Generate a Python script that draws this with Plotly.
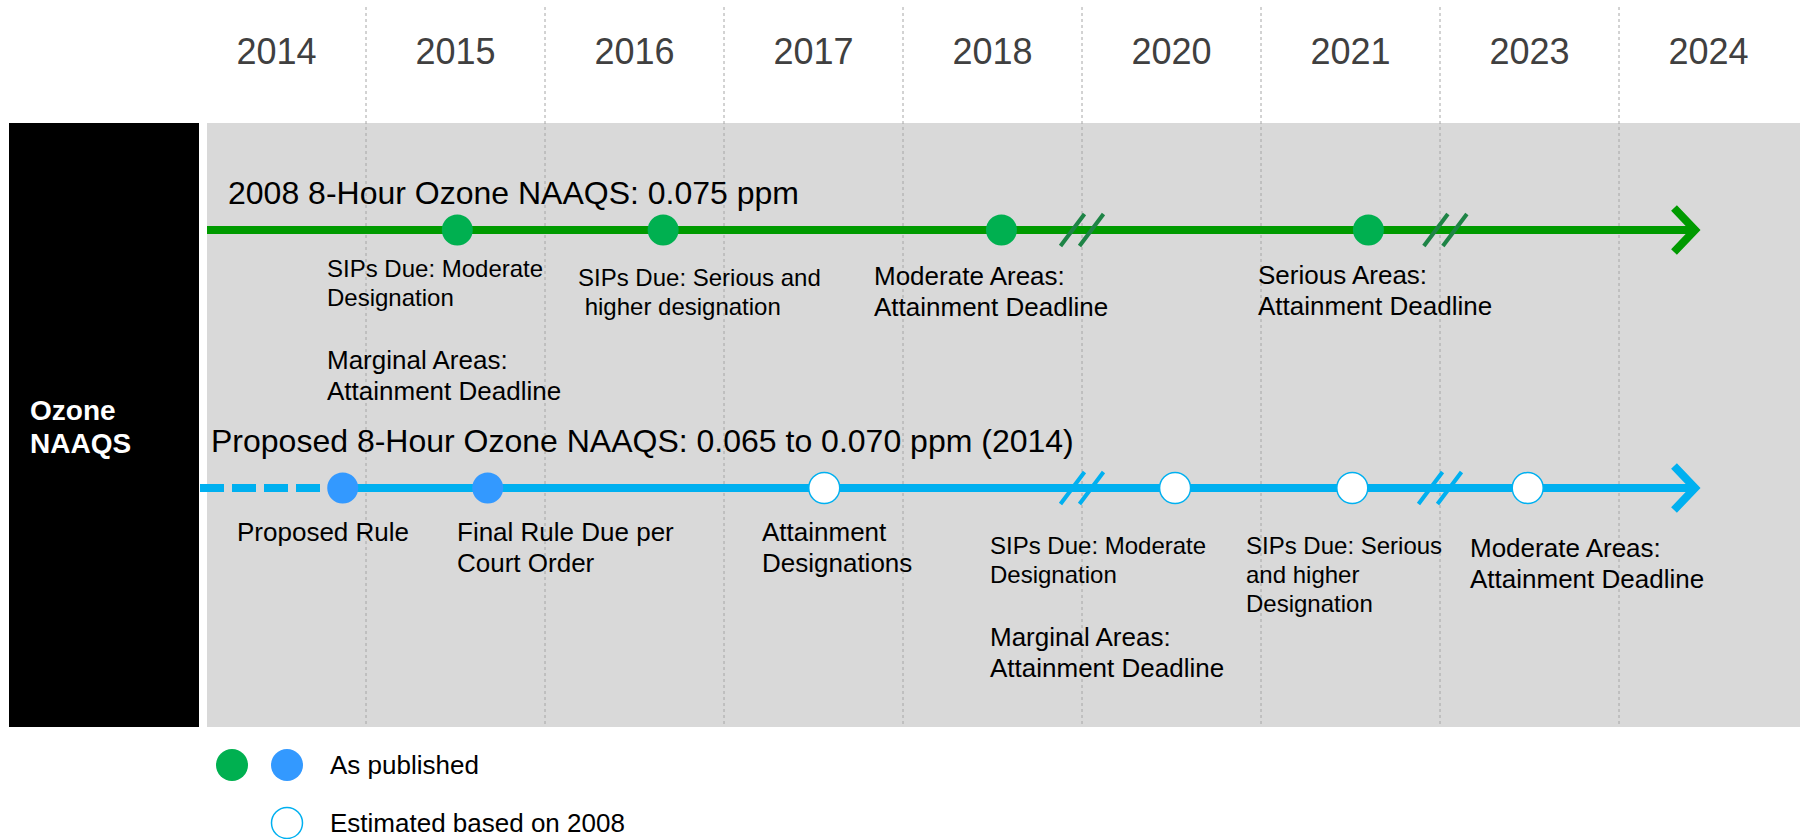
import plotly.graph_objects as go

W, H = 1800, 839

# ---------------- data ----------------
years = ["2014", "2015", "2016", "2017", "2018", "2020", "2021", "2023", "2024"]

green_title = "2008 8-Hour Ozone NAAQS: 0.075 ppm"
green_pos = [1.01, 2.16, 4.05, 6.10]          # milestone positions (year columns)
green_breaks = [4.5, 6.53]                     # skipped years (2019, 2022)
green_labels = [
    "SIPs Due: Moderate\nDesignation",
    "Marginal Areas:\nAttainment Deadline",
    "SIPs Due: Serious and\n\u00a0higher designation",
    "Moderate Areas:\nAttainment Deadline",
    "Serious Areas:\nAttainment Deadline",
]

blue_title = "Proposed 8-Hour Ozone NAAQS: 0.065 to 0.070 ppm (2014)"
blue_pos = [0.37, 1.18, 3.06, 5.02, 6.01, 6.99]
blue_status = ["published", "published", "estimated", "estimated", "estimated", "estimated"]
blue_breaks = [4.5, 6.5]
blue_labels = [
    "Proposed Rule",
    "Final Rule Due per\nCourt Order",
    "Attainment\nDesignations",
    "SIPs Due: Moderate\nDesignation",
    "Marginal Areas:\nAttainment Deadline",
    "SIPs Due: Serious\nand higher\nDesignation",
    "Moderate Areas:\nAttainment Deadline",
]

row_title = "Ozone\nNAAQS"
legend_texts = ["As published", "Estimated based on 2008"]

# ---------------- layout helpers ----------------
X0, COL = 276.5, 179.0           # pixel of column 0 centre, column width


def xpx(p):
    return (p - X0) / COL


FONT = "Liberation Sans, Arial, sans-serif"
GREEN_LINE, GREEN_DOT, GREEN_BREAK = "#009A00", "#00B050", "#1E8446"
BLUE_LINE, BLUE_DOT = "#00B0F0", "#3399FF"
Y_GREEN, Y_BLUE = 230, 488
TIP = xpx(1695)
ARM = xpx(1674)

green_label_layout = [(325, 268, 24), (325, 360, 26), (576, 277, 24), (872, 276, 26), (1256, 275, 26)]
blue_label_layout = [(235, 532, 26), (455, 532, 26), (760, 532, 26), (988, 545, 24),
                     (988, 637, 26), (1244, 545, 24), (1468, 548, 26)]

fig = go.Figure()

# ---------------- background shapes ----------------
shapes = [
    dict(type="rect", xref="x", yref="y", x0=xpx(207), x1=xpx(W), y0=123, y1=727,
         fillcolor="#D9D9D9", line=dict(width=0), layer="below"),
    dict(type="rect", xref="x", yref="y", x0=xpx(9), x1=xpx(199), y0=123, y1=727,
         fillcolor="black", line=dict(width=0), layer="below"),
]
for k in range(len(years) - 1):
    shapes.append(dict(type="line", xref="x", yref="y", x0=k + 0.5, x1=k + 0.5, y0=7, y1=727,
                       line=dict(color="#A6A6A6", width=1, dash="dot"), layer="below"))

# ---------------- timelines ----------------
fig.add_trace(go.Scatter(x=[xpx(207), TIP], y=[Y_GREEN, Y_GREEN], mode="lines",
                         line=dict(color=GREEN_LINE, width=8), hoverinfo="skip"))
fig.add_trace(go.Scatter(x=[ARM, TIP, ARM], y=[Y_GREEN - 22, Y_GREEN, Y_GREEN + 22], mode="lines",
                         line=dict(color=GREEN_LINE, width=8), hoverinfo="skip"))
fig.add_trace(go.Scatter(x=[xpx(200), blue_pos[0]], y=[Y_BLUE, Y_BLUE], mode="lines",
                         line=dict(color=BLUE_LINE, width=8, dash="24px,8px"), hoverinfo="skip"))
fig.add_trace(go.Scatter(x=[blue_pos[0], TIP], y=[Y_BLUE, Y_BLUE], mode="lines",
                         line=dict(color=BLUE_LINE, width=8), hoverinfo="skip"))
fig.add_trace(go.Scatter(x=[ARM, TIP, ARM], y=[Y_BLUE - 22, Y_BLUE, Y_BLUE + 22], mode="lines",
                         line=dict(color=BLUE_LINE, width=8), hoverinfo="skip"))


def break_marks(breaks, y, color):
    xs, ys = [], []
    for b in breaks:
        c = X0 + b * COL
        for off in (-9.5, 9.5):
            xs += [xpx(c + off - 12), xpx(c + off + 12), None]
            ys += [y + 16, y - 16, None]
    fig.add_trace(go.Scatter(x=xs, y=ys, mode="lines", line=dict(color=color, width=4),
                             hoverinfo="skip", connectgaps=False))


break_marks(green_breaks, Y_GREEN, GREEN_BREAK)
break_marks(blue_breaks, Y_BLUE, BLUE_LINE)

# ---------------- milestones ----------------
fig.add_trace(go.Scatter(x=green_pos, y=[Y_GREEN] * len(green_pos), mode="markers",
                         marker=dict(size=31, color=GREEN_DOT, line=dict(width=0))))
pub_x = [p for p, s in zip(blue_pos, blue_status) if s == "published"]
est_x = [p for p, s in zip(blue_pos, blue_status) if s == "estimated"]
fig.add_trace(go.Scatter(x=pub_x, y=[Y_BLUE] * len(pub_x), mode="markers",
                         marker=dict(size=31, color=BLUE_DOT, line=dict(width=0))))
fig.add_trace(go.Scatter(x=est_x, y=[Y_BLUE] * len(est_x), mode="markers",
                         marker=dict(size=31, color="white", line=dict(width=1.5, color=BLUE_LINE))))

# ---------------- legend ----------------
fig.add_trace(go.Scatter(x=[xpx(232), xpx(287)], y=[765, 765], mode="markers",
                         marker=dict(size=32, color=[GREEN_DOT, BLUE_DOT], line=dict(width=0))))
fig.add_trace(go.Scatter(x=[xpx(287)], y=[823], mode="markers",
                         marker=dict(size=31, color="white", line=dict(width=1.5, color=BLUE_LINE))))


# ---------------- text ----------------
def add_text(text, left_px, y_first, size, spacing, color="black", bold=False):
    for k, line in enumerate(text.split("\n")):
        fig.add_annotation(x=xpx(left_px), y=y_first + k * spacing, xref="x", yref="y",
                           text=f"<b>{line}</b>" if bold else line, showarrow=False,
                           xanchor="left", yanchor="middle",
                           font=dict(family=FONT, size=size, color=color))


add_text(green_title, 226, 193, 32, 0)
add_text(blue_title, 209, 441, 32, 0)
for txt, (lx, ly, fs) in zip(green_labels, green_label_layout):
    add_text(txt, lx, ly, fs, 29 if fs == 24 else 31)
for txt, (lx, ly, fs) in zip(blue_labels, blue_label_layout):
    add_text(txt, lx, ly, fs, 29 if fs == 24 else 31)
add_text(row_title, 28, 410, 28, 33, color="white", bold=True)
add_text(legend_texts[0], 328, 765, 26, 0)
add_text(legend_texts[1], 328, 823, 26, 0)

fig.update_layout(
    width=W, height=H, margin=dict(l=0, r=0, t=0, b=0),
    paper_bgcolor="white", plot_bgcolor="white", showlegend=False,
    shapes=shapes,
    xaxis=dict(range=[xpx(0), xpx(W)], side="top", tickmode="array",
               tickvals=list(range(len(years))), ticktext=years,
               ticklabelposition="inside", ticklabelstandoff=36, ticks="",
               tickfont=dict(family=FONT, size=36, color="#404040"),
               showgrid=False, zeroline=False, showline=False, fixedrange=True),
    yaxis=dict(range=[H, 0], visible=False, fixedrange=True),
)

fig.write_html(
    "out.html",
    config={"displayModeBar": False},
    post_script="document.body.style.margin='0';document.body.style.padding='0';"
                "document.body.style.overflow='hidden';",
)
